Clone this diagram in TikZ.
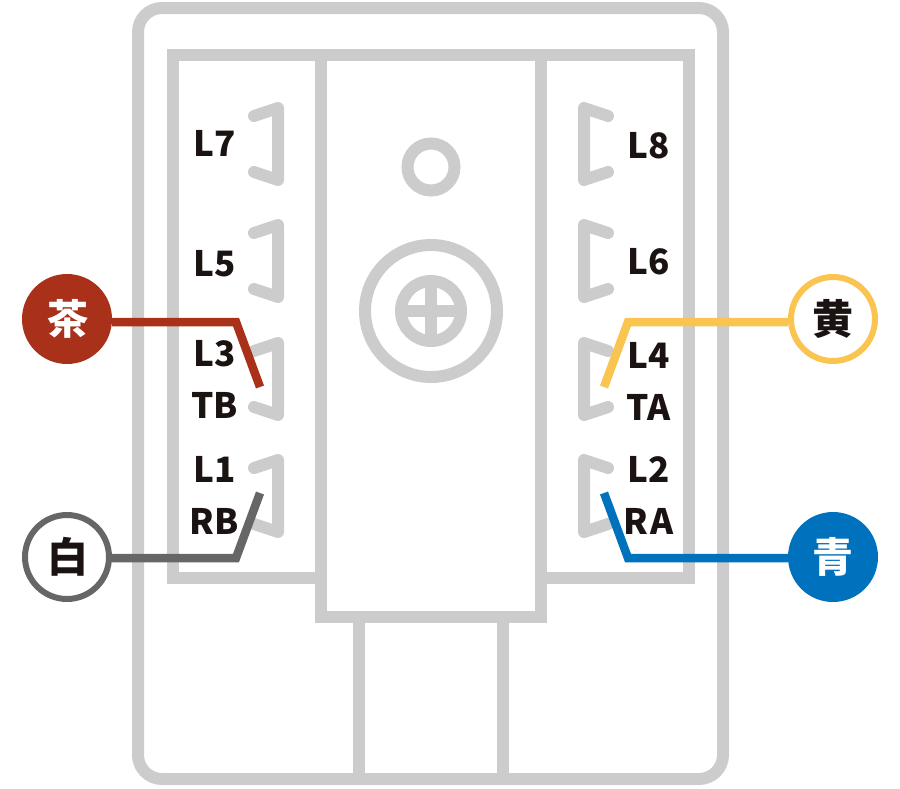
\documentclass[tikz,border=0pt]{standalone}
\usepackage{fontspec}
\setmainfont{Noto Sans CJK JP}
\definecolor{partgray}{HTML}{CCCCCC}
\definecolor{inkblack}{HTML}{1A1311}
\definecolor{wirered}{HTML}{A93019}
\definecolor{wiregray}{HTML}{666666}
\definecolor{wireyellow}{HTML}{FAC451}
\definecolor{wireblue}{HTML}{0071BC}
\tikzset{
  part/.style={draw=partgray,line width=12pt},
  contact/.style={part,line cap=round,line join=round},
  pin/.style={font=\fontsize{35}{35}\selectfont\bfseries,text=inkblack,anchor=base,inner sep=0pt},
  wire/.style={line width=8.5pt},
  tag/.style={circle,draw=#1,line width=6pt,minimum size=84pt,inner sep=0pt,font=\fontsize{41}{41}\selectfont\bfseries},
}
\begin{document}
\begin{tikzpicture}[x=1pt,y=-1pt]
  \useasboundingbox (0,0) rectangle (900,788);
  % case
  \draw[part,rounded corners=24pt] (138,8) rectangle (723,779);
  \draw[part] (321,578) -- (173,578) -- (173,55) -- (689,55) -- (689,578) -- (541,578);
  \draw[part] (321,55) -- (321,617) -- (541,617) -- (541,55);
  \draw[part] (359,617) -- (359,779);
  \draw[part] (503,617) -- (503,779);
  % screw
  \draw[part] (431,167) circle (23.5);
  \draw[part] (431,311) circle (66);
  \draw[part] (431,311) circle (30);
  \draw[part] (401,311) -- (461,311);
  \draw[part] (431,281) -- (431,341);
  % contacts
  \foreach \y in {0,117,235,352} {
    \draw[contact] (254,116+\y) -- (278,108+\y) -- (278,180+\y) -- (254,172+\y);
    \draw[contact] (608,116+\y) -- (584,108+\y) -- (584,180+\y) -- (608,172+\y);
  }
  % labels
  \node[pin] (L7) at (214.5,156) {L7};
  \node[pin] (L5) at (214.5,276) {L5};
  \node[pin] (L3) at (214.5,366) {L3};
  \node[pin] (TB) at (214.5,418) {TB};
  \node[pin] (L1) at (214.5,482) {L1};
  \node[pin] (RB) at (214.5,534) {RB};
  \node[pin] (L8) at (648.5,158) {L8};
  \node[pin] (L6) at (648.5,274) {L6};
  \node[pin] (L4) at (648.5,368) {L4};
  \node[pin] (TA) at (648.5,420) {TA};
  \node[pin] (L2) at (648.5,482) {L2};
  \node[pin] (RA) at (648.5,534) {R\kern2pt A};
  % wires
  \node[tag=wirered,fill=wirered,text=white] (cha) at (67,319) {\kern2pt 茶};
  \node[tag=wiregray,fill=white,text=inkblack] (shiro) at (67,557) {\kern1pt 白};
  \node[tag=wireyellow,fill=white,text=inkblack] (ki) at (833,319) {黄\kern1pt};
  \node[tag=wireblue,fill=wireblue,text=white] (ao) at (833,557) {青\kern1pt};
  \coordinate (chaBend) at (236,322);
  \coordinate (chaEnd) at (260,387);
  \coordinate (shiroBend) at (236,558);
  \coordinate (shiroEnd) at (260,493);
  \coordinate (kiBend) at (628,322);
  \coordinate (kiEnd) at (604,387);
  \coordinate (aoBend) at (628,558);
  \coordinate (aoEnd) at (604,493);
  \draw[wire,wirered] (cha.east |- chaBend) -- (chaBend) -- (chaEnd);
  \draw[wire,wiregray] (shiro.east |- shiroBend) -- (shiroBend) -- (shiroEnd);
  \draw[wire,wireyellow] (ki.west |- kiBend) -- (kiBend) -- (kiEnd);
  \draw[wire,wireblue] (ao.west |- aoBend) -- (aoBend) -- (aoEnd);
\end{tikzpicture}
\end{document}
